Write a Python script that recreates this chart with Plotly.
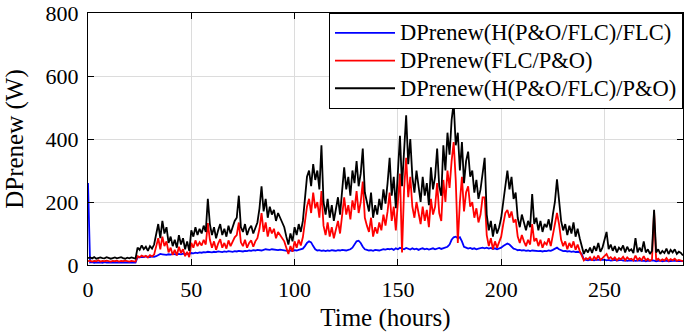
import plotly.graph_objects as go

# Hourly values (W), t = 0 .. 288 h
black_vals = [
    22, 24, 21, 25, 20, 23, 24, 22, 21, 25, 23, 20, 22, 24, 21, 23, 25, 22, 20, 23, 21, 24, 22, 20,
    55, 48, 62, 50, 58, 45, 60, 52, 65, 95, 130, 85, 140, 100, 120, 70, 90, 60, 80, 55, 95, 65, 85, 50,
    75, 45, 110, 90, 120, 95, 115, 100, 125, 105, 210, 130, 95, 120, 85, 110, 130, 95, 115, 90, 125, 100, 120, 140,
    150, 220, 120, 105, 130, 95, 115, 125, 100, 120, 135, 180, 250, 170, 210, 150, 185, 160, 175, 140, 165, 150, 135, 120,
    90, 65, 100, 75, 120, 95, 130, 105, 140, 200, 280, 300, 250, 320, 270, 300, 240, 380, 200, 160, 210, 150, 190, 140,
    180, 215, 160, 250, 310, 240, 280, 220, 300, 260, 330, 250, 290, 370, 230, 200, 170, 230, 150, 190, 160, 210, 175, 240,
    195, 260, 340, 220, 280, 180, 300, 410, 250, 350, 475, 320, 400, 280, 230, 300, 250, 200, 280, 220, 260, 190, 310, 240,
    280, 370, 250, 220, 380, 300, 420, 350, 460, 515, 380, 420, 300, 390, 260, 330, 360, 280, 300, 230, 270, 210, 240, 300,
    340, 160, 110, 140, 90, 130, 100, 120, 150, 200, 260, 300, 240, 280, 210, 230, 150, 120, 160, 130, 110, 140, 120, 225,
    130, 150, 110, 140, 105, 130, 120, 145, 110, 160, 200, 272, 210, 140, 110, 130, 95, 125, 100, 135, 90, 115, 85, 60,
    35, 50, 40, 55, 38, 60, 45, 70, 42, 55, 80, 105, 50, 65, 45, 60, 40, 55, 48, 62, 40, 58, 45, 50,
    38, 85, 40, 55, 42, 75, 40, 50, 35, 45, 175, 40, 50, 35, 45, 38, 52, 35, 48, 40, 50, 35, 42, 38,
    30,
]

red_vals = [
    12, 14, 11, 13, 12, 15, 11, 13, 12, 14, 12, 11, 13, 12, 14, 11, 13, 12, 14, 12, 11, 13, 12, 11,
    28, 25, 30, 26, 29, 24, 31, 27, 33, 55, 85, 50, 90, 60, 75, 40, 55, 32, 48, 30, 58, 38, 50, 28,
    42, 25, 70, 55, 78, 60, 72, 62, 80, 65, 133, 80, 55, 75, 48, 68, 82, 55, 70, 52, 78, 60, 75, 88,
    95, 135, 72, 60, 80, 55, 70, 78, 58, 75, 85, 115, 165, 105, 135, 90, 120, 100, 115, 85, 105, 95, 85, 75,
    55, 35, 60, 42, 75, 55, 80, 62, 88, 130, 185, 210, 165, 230, 180, 200, 150, 235, 125, 95, 135, 90, 120, 85,
    115, 140, 100, 170, 215, 160, 190, 145, 205, 175, 235, 165, 200, 265, 150, 125, 105, 150, 90, 120, 100, 135, 110, 160,
    125, 170, 230, 140, 185, 110, 200, 290, 40, 240, 340, 215, 280, 185, 150, 200, 165, 130, 185, 140, 175, 120, 210, 160,
    185, 260, 165, 140, 270, 200, 300, 245, 330, 390, 270, 70, 200, 280, 170, 230, 250, 185, 200, 150, 180, 135, 160, 215,
    215, 95, 60, 85, 50, 75, 55, 70, 90, 130, 165, 175, 150, 170, 135, 145, 90, 70, 95, 75, 60, 80, 65, 130,
    75, 85, 60, 80, 55, 72, 65, 85, 60, 95, 125, 165, 130, 80, 60, 75, 50, 70, 55, 75, 48, 65, 45, 30,
    15, 22, 18, 25, 14, 26, 18, 30, 16, 22, 28, 35, 20, 25, 17, 24, 15, 22, 18, 26, 15, 24, 18, 20,
    14, 30, 16, 22, 15, 28, 15, 20, 13, 18, 170, 15, 20, 13, 18, 14, 22, 13, 19, 15, 20, 13, 16, 14,
    12,
]

blue_vals = [
    260, 8, 9, 7, 8, 9, 8, 7, 9, 8, 8, 7, 9, 8, 8, 9, 7, 8, 9, 8, 7, 8, 9, 8,
    25, 24, 26, 25, 27, 26, 25, 27, 26, 28, 32, 35, 34, 33, 32, 34, 33, 35, 34, 33, 35, 34, 36, 35,
    36, 35, 38, 37, 39, 38, 40, 39, 41, 40, 42, 41, 40, 42, 41, 43, 42, 41, 43, 42, 44, 43, 42, 44,
    43, 45, 44, 43, 45, 44, 46, 45, 47, 46, 48, 47, 46, 48, 50, 49, 48, 50, 49, 48, 47, 49, 48, 46,
    45, 44, 46, 45, 47, 46, 48, 50, 52, 60, 70, 75, 72, 60, 50, 46, 47, 45, 46, 44, 46, 45, 47, 46,
    45, 47, 46, 48, 47, 46, 48, 50, 55, 65, 75, 77, 70, 58, 50, 48, 46, 47, 45, 48, 47, 46, 48, 50,
    49, 51, 50, 52, 48, 53, 50, 55, 52, 50, 54, 51, 49, 53, 50, 52, 48, 51, 53, 50, 52, 49, 51, 53,
    50, 52, 54, 51, 53, 55, 58, 65, 80, 88, 90, 85, 88, 75, 58, 55, 52, 54, 51, 53, 50, 52, 54, 55,
    53, 55, 52, 54, 51, 53, 50, 52, 55, 60, 65, 68, 65, 58, 52, 50, 47, 48, 46, 47, 45, 46, 44, 46,
    45, 46, 44, 45, 43, 45, 44, 46, 45, 48, 52, 55, 50, 46, 44, 45, 43, 44, 42, 43, 41, 42, 40, 35,
    18, 16, 15, 17, 16, 15, 17, 16, 15, 16, 17, 15, 16, 14, 15, 16, 14, 15, 16, 14, 15, 13, 15, 14,
    15, 13, 14, 15, 13, 14, 12, 14, 13, 15, 14, 12, 13, 14, 12, 13, 14, 12, 13, 12, 14, 12, 13, 12,
    12,
]

series_names = ["DPrenew(H(P&O/FLC)/FLC)", "DPrenew(FLC/P&O)", "DPrenew(H(P&O/FLC)/P&O)"]
x_ticks = [0, 50, 100, 150, 200, 250]
y_ticks = [0, 200, 400, 600, 800]

FONT = "Times New Roman, Liberation Serif, serif"

fig = go.Figure()
for name, vals, color, w in [
    (series_names[0], blue_vals, "#0000ff", 1.8),
    (series_names[1], red_vals, "#ff0000", 1.8),
    (series_names[2], black_vals, "#000000", 1.8),
]:
    fig.add_trace(go.Scatter(
        x=list(range(len(vals))), y=vals, mode="lines",
        name='<span style="font-size:22.5px">' + name + '</span>',
        line=dict(color=color, width=w),
    ))

axis_common = dict(
    showline=True, linecolor="black", linewidth=1, mirror="ticks",
    ticks="inside", ticklen=6, tickcolor="black",
    showgrid=True, gridcolor="#dcdcdc", gridwidth=1,
    zeroline=False, tickfont=dict(family=FONT, size=22, color="black"),
    ticklabeloverflow="allow", automargin=False,
)

fig.update_layout(
    width=685, height=335,
    margin=dict(l=88, r=2, t=13, b=70),
    paper_bgcolor="white", plot_bgcolor="white",
    font=dict(family=FONT, color="black"),
    xaxis=dict(range=[0, 288], tickvals=x_ticks, ticklabelstandoff=5,
               title=dict(text="Time (hours)", font=dict(family=FONT, size=25), standoff=7),
               **axis_common),
    yaxis=dict(range=[0, 800], tickvals=y_ticks, ticklabelstandoff=4,
               title=dict(text="DPrenew (W)", font=dict(family=FONT, size=25), standoff=14),
               **axis_common),
    legend=dict(x=1, y=1, xanchor="right", yanchor="top",
                bgcolor="white", bordercolor="black", borderwidth=1,
                font=dict(family=FONT, size=19, color="black"),
                tracegroupgap=0, itemwidth=60),
    showlegend=True,
)

fig.write_html("out.html", config={"displayModeBar": False},
               post_script="document.body.style.margin='0';")
